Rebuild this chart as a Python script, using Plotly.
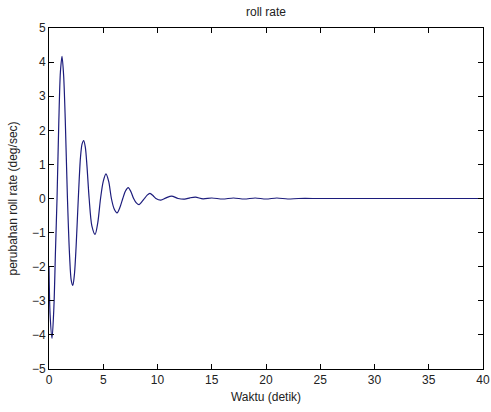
import plotly.graph_objects as go

# roll rate response (time in s, rate in deg/sec)
waktu = [0.0, 0.1, 0.28, 0.45, 0.6, 0.74, 0.9, 1.05, 1.2, 1.35, 1.5, 1.7, 1.9, 2.05, 2.2,
         2.35, 2.5, 2.7, 2.9, 3.05, 3.2, 3.35, 3.5, 3.7, 3.95, 4.25, 4.5, 4.75, 5.0,
         5.25, 5.5, 5.75, 6.0, 6.27, 6.55, 6.8, 7.05, 7.3, 7.55, 7.8, 8.05, 8.3, 8.55,
         8.8, 9.05, 9.3, 9.6, 9.85, 10.3, 10.8, 11.3, 11.9, 12.5, 13.0, 13.5, 14.2,
         15.0, 16.0, 17.0, 18.0, 19.0, 20.0, 21.0, 22.0, 23.0, 25.0, 30.0, 35.0, 40.0]
roll_rate = [-2.0, -3.4, -4.1, -3.2, -1.5, 0.0, 2.2, 3.7, 4.17, 3.6, 2.3, 0.0, -1.7, -2.4, -2.55,
             -2.2, -1.4, 0.0, 1.2, 1.6, 1.7, 1.5, 0.95, 0.0, -0.8, -1.05, -0.7, 0.0, 0.5,
             0.72, 0.5, 0.0, -0.3, -0.42, -0.25, 0.0, 0.22, 0.32, 0.2, 0.0, -0.13, -0.18, -0.1,
             0.0, 0.1, 0.15, 0.08, 0.0, -0.05, 0.02, 0.07, 0.0, -0.02, 0.02, 0.04, -0.01,
             0.015, -0.015, 0.015, -0.015, 0.015, -0.015, 0.015, -0.015, 0.0, 0.0, 0.0, 0.0, 0.0]

x_ticks = [0, 5, 10, 15, 20, 25, 30, 35, 40]
y_ticks = [-5, -4, -3, -2, -1, 0, 1, 2, 3, 4, 5]

fig = go.Figure()
fig.add_trace(go.Scatter(x=waktu, y=roll_rate, mode="lines",
                         line=dict(color="#1c1c7c", width=1.2, shape="spline", smoothing=0.8),
                         showlegend=False))

axis_style = dict(showline=True, linecolor="black", linewidth=1, mirror="ticks",
                  ticks="inside", ticklen=5, tickcolor="black", showgrid=False,
                  zeroline=False, automargin=False, tickfont=dict(size=12, color="#222"))

fig.update_xaxes(range=[0, 40], tickvals=x_ticks, title=dict(text="Waktu (detik)", standoff=6,
                 font=dict(size=12, color="#222")), **axis_style)
fig.update_yaxes(range=[-5, 5], tickvals=y_ticks, title=dict(text="perubahan roll rate (deg/sec)",
                 standoff=11, font=dict(size=12, color="#222")), **axis_style)

fig.update_layout(
    width=491, height=412,
    margin=dict(l=49, r=8, t=28, b=43, autoexpand=False),
    paper_bgcolor="white", plot_bgcolor="white",
    font=dict(family="Liberation Sans, Arial, sans-serif", size=12, color="#222"),
    title=dict(text="roll rate", x=0.5, xref="paper", y=0.972, yanchor="middle",
               font=dict(size=12, color="#222")),
)

# drop the default page margin so the figure sits at the window's corner
fig.write_html("out.html", config={"displayModeBar": False},
               post_script="document.body.style.margin='0';")
